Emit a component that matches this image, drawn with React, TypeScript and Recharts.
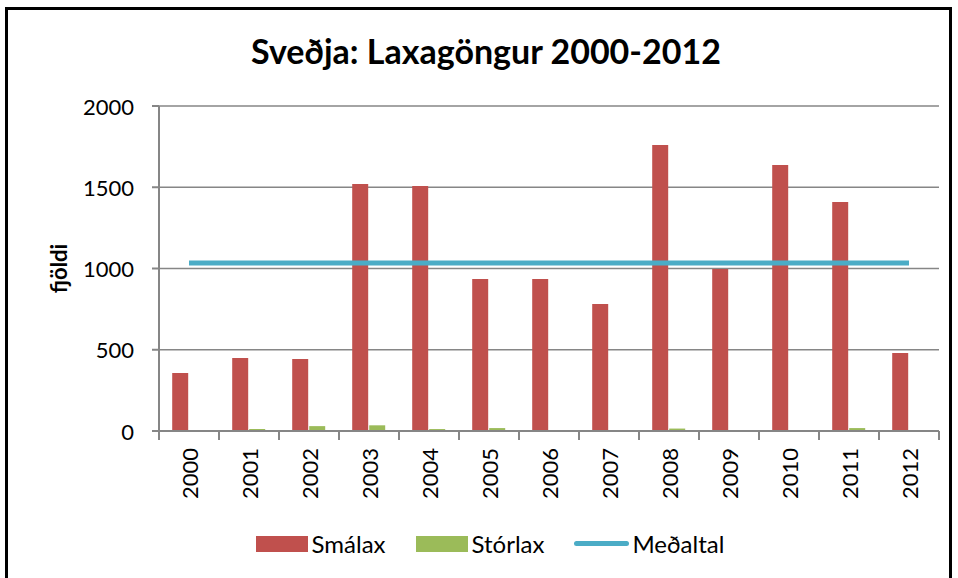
import { ComposedChart, Bar, Line, XAxis, YAxis, CartesianGrid, Legend, Label } from 'recharts';

const years = ['2000', '2001', '2002', '2003', '2004', '2005', '2006', '2007', '2008', '2009', '2010', '2011', '2012'];
const smalax = [357, 449, 443, 1520, 1508, 935, 935, 782, 1760, 997, 1637, 1409, 480];
const storlax = [5, 12, 30, 35, 12, 18, 0, 0, 15, 3, 4, 18, 5];
const medaltal = [1034, 1034, 1034, 1034, 1034, 1034, 1034, 1034, 1034, 1034, 1034, 1034, 1034];
const yTicks = [0, 500, 1000, 1500, 2000];

const RED = '#C0504D';
const GREEN = '#9BBB59';
const BLUE = '#4BACC6';
const GRID = '#868686';
const FONT = 'Lato, "Open Sans", sans-serif';

const data = years.map((year, i) => ({
  year,
  smalax: smalax[i],
  storlax: storlax[i],
  medaltal: medaltal[i],
}));

function YearTick(props: any) {
  const { x, y, payload, index, width, visibleTicksCount } = props;
  const band = width && visibleTicksCount ? width / visibleTicksCount : 60;
  const left = x - band / 2;
  return (
    <g>
      <line x1={left} y1={y - 8} x2={left} y2={y + 1} stroke={GRID} strokeWidth={2} />
      {index === years.length - 1 && (
        <line x1={left + band} y1={y - 8} x2={left + band} y2={y + 1} stroke={GRID} strokeWidth={2} />
      )}
      <text
        x={x}
        y={y + 9}
        transform={`rotate(-90, ${x}, ${y + 9})`}
        textAnchor="end"
        dominantBaseline="central"
        fontSize={22}
        fontFamily={FONT}
        fill="#000"
      >
        {payload.value}
      </text>
    </g>
  );
}

function ValueTick(props: any) {
  const { x, y, payload } = props;
  return (
    <text x={x} y={y} textAnchor="end" dominantBaseline="central" fontSize={22} fontFamily={FONT} fill="#000">
      {payload.value}
    </text>
  );
}

function renderLegend() {
  const items = [
    { name: 'Smálax', color: RED, kind: 'bar' },
    { name: 'Stórlax', color: GREEN, kind: 'bar' },
    { name: 'Meðaltal', color: BLUE, kind: 'line' },
  ];
  return (
    <div style={{ display: 'flex', justifyContent: 'center', alignItems: 'center', fontFamily: FONT, fontSize: 24, color: '#000', paddingLeft: 24 }}>
      {items.map((it, i) => (
        <div key={it.name} style={{ display: 'flex', alignItems: 'center', marginRight: i < items.length - 1 ? 30 : 0 }}>
          {it.kind === 'bar' ? (
            <span style={{ display: 'inline-block', width: 52, height: 16, background: it.color, marginRight: 4 }} />
          ) : (
            <span style={{ display: 'inline-block', width: 55, height: 5, borderRadius: 3, background: it.color, marginRight: 3 }} />
          )}
          <span>{it.name}</span>
        </div>
      ))}
    </div>
  );
}

export default function App() {
  return (
    <div
      style={{
        position: 'absolute',
        left: 5,
        top: 7,
        width: 941,
        height: 600,
        border: '3px solid #000',
        background: '#fff',
        overflow: 'hidden',
      }}
    >
      <div
        style={{
          position: 'absolute',
          left: 0,
          width: 956,
          top: 21,
          textAlign: 'center',
          fontFamily: FONT,
          fontWeight: 700,
          fontSize: 34,
          lineHeight: 1.2,
          color: '#000',
        }}
      >
        Sveðja: Laxagöngur 2000-2012
      </div>
      <ComposedChart
        width={940}
        height={590}
        data={data}
        margin={{ top: 96, right: 9, left: 0, bottom: 89 }}
        barCategoryGap="22%"
        barGap={1}
      >
        <CartesianGrid vertical={false} stroke={GRID} strokeWidth={1.5} />
        <XAxis
          dataKey="year"
          interval={0}
          height={80}
          axisLine={{ stroke: GRID, strokeWidth: 2 }}
          tickLine={false}
          tick={<YearTick />}
        />
        <YAxis
          domain={[0, 2000]}
          ticks={yTicks}
          width={151}
          tickSize={7}
          tickMargin={18}
          axisLine={{ stroke: GRID, strokeWidth: 2 }}
          tickLine={{ stroke: GRID, strokeWidth: 2 }}
          tick={<ValueTick />}
        >
          <Label
            content={(p: any) => {
              const vb = p.viewBox || { x: 0, y: 96, height: 325 };
              const cx = vb.x + 50;
              const cy = vb.y + vb.height / 2;
              return (
                <text
                  x={cx}
                  y={cy}
                  transform={`rotate(-90, ${cx}, ${cy})`}
                  textAnchor="middle"
                  dominantBaseline="central"
                  fontSize={22}
                  fontWeight={700}
                  fontFamily={FONT}
                  fill="#000"
                >
                  fjöldi
                </text>
              );
            }}
          />
        </YAxis>
        <Bar dataKey="smalax" name="Smálax" fill={RED} isAnimationActive={false} />
        <Bar dataKey="storlax" name="Stórlax" fill={GREEN} isAnimationActive={false} />
        <Line
          dataKey="medaltal"
          name="Meðaltal"
          stroke={BLUE}
          strokeWidth={5}
          dot={false}
          activeDot={false}
          isAnimationActive={false}
        />
        <Legend content={renderLegend} wrapperStyle={{ position: 'absolute', top: 519, left: 0, width: 940, height: 0, overflow: 'visible' }} />
      </ComposedChart>
    </div>
  );
}
